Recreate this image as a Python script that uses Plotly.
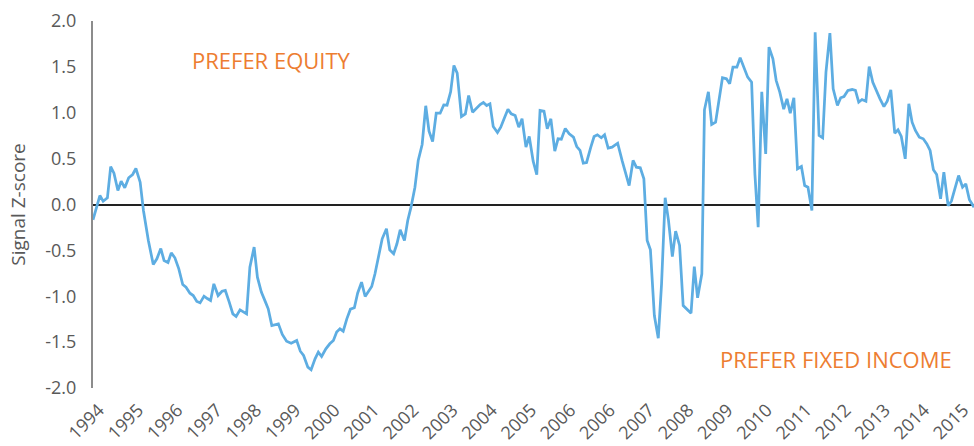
import plotly.graph_objects as go

# Month index (0 = start of series) and signal z-score values
months = [0, 2.1, 3.1, 4.4, 5.4, 6.4, 7.6, 8.6, 9.7, 10.9, 12.1, 13.1, 14.4, 15.4, 16.9,
          18.4, 19.5, 20.7, 21.7, 22.9, 23.9, 25.0, 26.2, 27.4, 28.4, 29.6, 30.6, 31.7,
          32.7, 33.9, 34.9, 35.9, 36.9, 38.2, 39.4, 40.4, 41.6, 42.7, 43.7, 44.9, 45.9,
          46.9, 47.9, 49.2, 50.2, 51.4, 52.8, 53.5, 54.6, 56.6, 57.8, 59.1, 60.5, 62.2,
          63.3, 64.3, 65.6, 66.6, 67.8, 68.8, 69.8, 71.1, 72.3, 73.4, 74.4, 75.4, 76.4,
          77.5, 78.6, 79.8, 80.8, 82.0, 83.1, 84.1, 85.1, 86.1, 87.1, 88.3, 89.6, 90.6,
          91.8, 92.8, 93.8, 95.1, 96.1, 97.1, 98.3, 99.3, 100.5, 101.6, 102.6, 103.7,
          104.8, 106.0, 107.1, 108.1, 109.2, 110.2, 111.2, 112.5, 113.7, 114.7, 115.9,
          117.2, 118.2, 119.2, 120.2, 121.2, 122.2, 123.5, 124.5, 125.7, 126.7, 127.7,
          128.9, 130.0, 131.0, 132.2, 133.2, 134.4, 135.5, 136.5, 137.7, 138.7, 139.8,
          141.0, 142.0, 143.0, 144.2, 145.4, 146.7, 147.7, 148.7, 149.7, 150.7, 152.0,
          153.0, 154.0, 155.2, 156.2, 157.3, 158.5, 159.7, 160.2, 161.6, 162.7, 163.7,
          164.9, 165.9, 167.1, 168.2, 169.2, 170.2, 171.4, 172.6, 173.6, 174.7, 175.7,
          176.9, 177.9, 179.1, 180.2, 181.4, 182.6, 183.6, 184.6, 185.9, 186.7, 187.9,
          188.9, 190.1, 191.1, 192.2, 193.4, 194.4, 195.4, 196.6, 197.6, 198.9, 199.9,
          201.1, 202.1, 203.1, 204.2, 205.4, 206.4, 207.6, 208.6, 209.7, 210.9, 211.9,
          212.9, 214.0, 215.1, 216.3, 217.3, 218.3, 219.5, 220.5, 221.7, 222.8, 223.8,
          225.0, 226.0, 227.3, 228.3, 229.3, 230.5, 231.8, 232.8, 233.8, 234.8, 236.0,
          237.0, 238.1, 239.3, 240.3, 241.5, 242.5, 243.6, 244.8, 245.8, 246.8, 248.0,
          249.1, 250.1, 251.1, 252.3, 253.5, 254.6, 255.6, 256.6, 257.6, 258.8, 259.8,
          261.1, 262.1, 263.3, 264.3, 265.5, 266.5, 267.6, 269.0]

zscore = [-0.167, 0.098, 0.036, 0.073, 0.414, 0.341, 0.153, 0.254, 0.182, 0.291, 0.327,
          0.392, 0.243, -0.065, -0.392, -0.654, -0.592, -0.48, -0.61, -0.632, -0.527,
          -0.581, -0.701, -0.872, -0.901, -0.967, -0.992, -1.057, -1.072, -0.999, -1.025,
          -1.046, -0.865, -0.992, -0.945, -0.937, -1.064, -1.192, -1.221, -1.148, -1.170,
          -1.192, -0.683, -0.465, -0.792, -0.955, -1.075, -1.137, -1.319, -1.301, -1.417,
          -1.49, -1.512, -1.482, -1.599, -1.646, -1.773, -1.802, -1.682, -1.61, -1.657,
          -1.573, -1.518, -1.482, -1.391, -1.355, -1.381, -1.246, -1.141, -1.126, -0.967,
          -0.847, -1.003, -0.955, -0.894, -0.755, -0.592, -0.374, -0.265, -0.494, -0.537,
          -0.428, -0.276, -0.392, -0.174, -0.029, 0.189, 0.48, 0.654, 1.076, 0.799, 0.687,
          0.995, 0.995, 1.085, 1.082, 1.228, 1.515, 1.431, 0.959, 0.988, 1.188, 1.006,
          1.06, 1.09, 1.112, 1.079, 1.097, 0.85, 0.785, 0.843, 0.952, 1.039, 0.988, 0.97,
          0.843, 0.934, 0.625, 0.741, 0.472, 0.324, 1.025, 1.017, 0.825, 0.934, 0.581,
          0.716, 0.712, 0.828, 0.77, 0.734, 0.632, 0.589, 0.45, 0.458, 0.625, 0.741, 0.76,
          0.727, 0.76, 0.614, 0.625, 0.661, 0.668, 0.472, 0.327, 0.207, 0.48, 0.407, 0.4,
          0.28, -0.392, -0.494, -1.21, -1.457, -0.865, 0.073, -0.167, -0.567, -0.291,
          -0.447, -1.101, -1.148, -1.185, -0.676, -1.017, -0.755, 1.032, 1.228, 0.872,
          0.897, 1.141, 1.381, 1.37, 1.315, 1.497, 1.497, 1.599, 1.49, 1.388, 1.333, 0.334,
          -0.247, 1.228, 0.552, 1.715, 1.588, 1.351, 1.224, 1.039, 1.152, 0.995, 1.163,
          0.389, 0.414, 0.207, 0.189, -0.065, 1.878, 0.752, 0.727, 1.442, 1.867, 1.261,
          1.079, 1.163, 1.177, 1.243, 1.253, 1.243, 1.115, 1.144, 1.126, 1.504, 1.333,
          1.224, 1.152, 1.068, 1.126, 1.25, 0.777, 0.814, 0.741, 0.498, 1.097, 0.897, 0.807,
          0.734, 0.716, 0.661, 0.589, 0.378, 0.327, 0.062, 0.352, -0.014, 0.036, 0.189,
          0.316, 0.189, 0.225, 0.051, -0.029]

tick_labels = ["1994", "1995", "1996", "1997", "1998", "1999", "2000", "2001", "2002",
               "2003", "2004", "2005", "2006", "2006", "2007", "2008", "2009", "2010",
               "2011", "2012", "2013", "2014", "2015"]
tick_months = [1.8 + 12 * i for i in range(len(tick_labels))]

y_ticks = [2.0, 1.5, 1.0, 0.5, 0.0, -0.5, -1.0, -1.5, -2.0]

GRAY = "#595959"
ORANGE = "#ED7D31"
FONT = "Open Sans"

fig = go.Figure()
fig.add_trace(go.Scatter(x=months, y=zscore, mode="lines",
                         line=dict(color="#5DADE2", width=2.75), showlegend=False))

fig.update_layout(
    width=974, height=446,
    margin=dict(l=93, r=0, t=21, b=58, autoexpand=False),
    plot_bgcolor="white", paper_bgcolor="white",
    font=dict(family=FONT, color=GRAY, size=18),
    xaxis=dict(range=[0, 269], tickmode="array", tickvals=tick_months,
               ticktext=tick_labels, tickangle=-45, showgrid=False, zeroline=False,
               showline=False, ticks="", ticklabelstandoff=7,
               ticklabeloverflow="allow",
               tickfont=dict(size=18, color=GRAY)),
    yaxis=dict(range=[-2.0, 2.0], tickmode="array", tickvals=y_ticks,
               ticktext=[f"{v:.1f}" for v in y_ticks], showgrid=False,
               zeroline=True, zerolinecolor="#222222", zerolinewidth=1.5,
               showline=True, linecolor="#8c8c8c", linewidth=2, ticks="",
               ticklabelstandoff=11, tickfont=dict(size=18, color=GRAY),
               title=dict(text="Signal Z-score", font=dict(size=19, color=GRAY),
                          standoff=15)),
    annotations=[
        dict(text="PREFER EQUITY", x=0.203, y=0.894, xref="paper", yref="paper",
             xanchor="center", yanchor="middle", showarrow=False,
             font=dict(size=22, color=ORANGE, family=FONT)),
        dict(text="PREFER FIXED INCOME", x=0.843, y=0.079, xref="paper", yref="paper",
             xanchor="center", yanchor="middle", showarrow=False,
             font=dict(size=22, color=ORANGE, family=FONT)),
    ],
)

fig.write_html(
    "out.html",
    config={"displayModeBar": False},
    post_script="document.body.style.margin='0';document.body.style.overflow='hidden';",
)
